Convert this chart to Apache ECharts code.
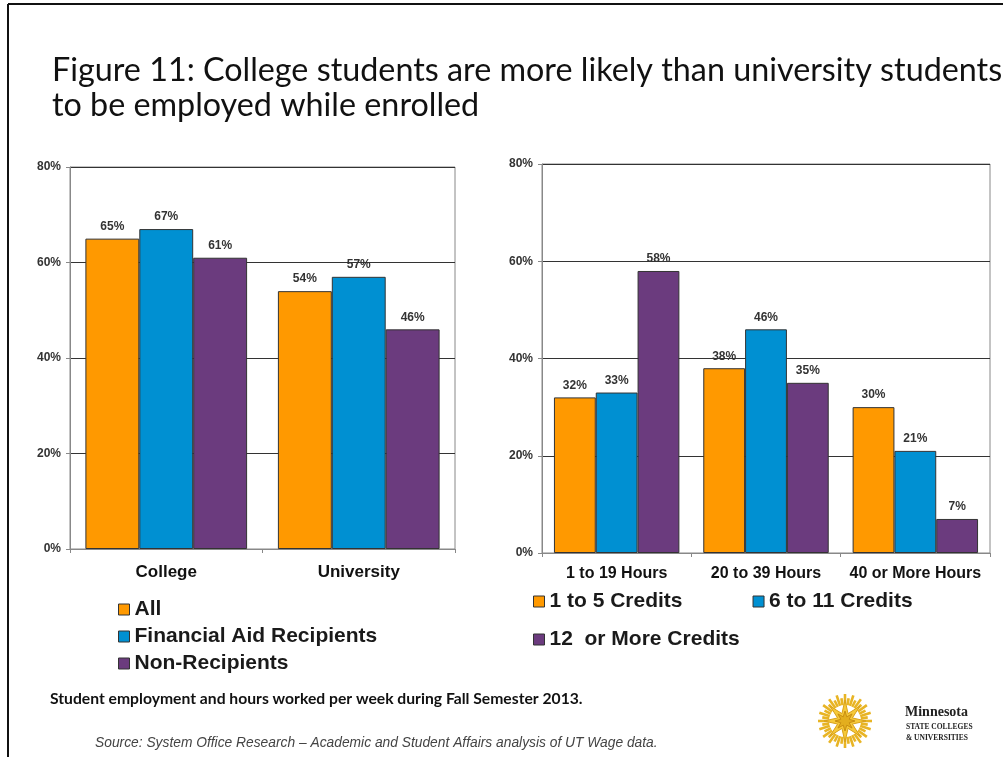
<!DOCTYPE html>
<html>
<head>
<meta charset="utf-8">
<script src="https://cdn.jsdelivr.net/npm/echarts@6/dist/echarts.min.js"></script>
<style>
  html, body { margin: 0; padding: 0; background: #ffffff; }
  #chart { width: 1003px; height: 757px; }
</style>
</head>
<body>
<div id="chart"></div>
<script>
// Employment rate by institution type
const groupCategories = ['College', 'University'];
const allStudents = [65, 54];
const aidRecipients = [67, 57];
const nonRecipients = [61, 46];

// Employment rate by hours worked per week and credit load
const hourCategories = ['1 to 19 Hours', '20 to 39 Hours', '40 or More Hours'];
const credits1to5 = [32, 38, 30];
const credits6to11 = [33, 46, 21];
const credits12plus = [58, 35, 7];

// Percent axis ticks
const yMin = 0;
const yMax = 80;
const yStep = 20;

const leftNames = ['All', 'Financial Aid Recipients', 'Non-Recipients'];
const rightNames = ['1 to 5 Credits', '6 to 11 Credits', '12  or More Credits'];

const ORANGE = '#FF9900';
const BLUE = '#0090D2';
const PURPLE = '#6B3B7E';
const FONT = 'Arial, "Liberation Sans", sans-serif';

const chart = echarts.init(document.getElementById('chart'), null, { renderer: 'canvas' });

function barSeries(name, data, color, axisIndex) {
  return {
    name: name,
    type: 'bar',
    xAxisIndex: axisIndex,
    yAxisIndex: axisIndex,
    data: data,
    barGap: '0%',
    barCategoryGap: '16%',
    itemStyle: { color: color, borderColor: '#333333', borderWidth: 1 },
    label: {
      show: true,
      position: 'top',
      distance: 6,
      formatter: '{c}%',
      fontFamily: FONT,
      fontWeight: 'bold',
      fontSize: 12,
      color: '#333333'
    },
    emphasis: { disabled: true },
    animation: false
  };
}

function valueAxis(gridIndex) {
  return {
    type: 'value',
    gridIndex: gridIndex,
    min: yMin,
    max: yMax,
    interval: yStep,
    axisLine: { show: true, lineStyle: { color: '#888888', width: 1 } },
    axisTick: { show: true, length: 4, lineStyle: { color: '#888888' } },
    axisLabel: {
      formatter: '{value}%',
      fontFamily: FONT,
      fontWeight: 'bold',
      fontSize: 12,
      color: '#333333',
      margin: 9
    },
    splitLine: { show: true, lineStyle: { color: '#333333', width: 1 } }
  };
}

function categoryAxis(gridIndex, data, fontSize, margin) {
  return {
    type: 'category',
    gridIndex: gridIndex,
    data: data,
    axisLine: { show: true, lineStyle: { color: '#888888', width: 1 } },
    axisTick: { show: true, length: 4, lineStyle: { color: '#888888' } },
    axisLabel: {
      interval: 0,
      fontFamily: FONT,
      fontWeight: 'bold',
      fontSize: fontSize,
      color: '#111111',
      margin: margin
    }
  };
}

const legendText = { fontFamily: FONT, fontWeight: 'bold', fontSize: 21, color: '#1a1a1a' };
const legendItem = { borderColor: '#333333', borderWidth: 1 };

// Star emblem of the logo
function emblem(cx, cy) {
  const parts = [];
  const rays = 40;
  for (let i = 0; i < rays; i++) {
    const a = (i / rays) * Math.PI * 2;
    const r1 = 14, r2 = (i % 2 === 0) ? 27 : 23;
    parts.push({
      type: 'line',
      shape: { x1: cx + r1 * Math.cos(a), y1: cy + r1 * Math.sin(a), x2: cx + r2 * Math.cos(a), y2: cy + r2 * Math.sin(a) },
      style: { stroke: '#E8B424', lineWidth: 2.6 },
      silent: true
    });
  }
  const star = (outer, inner, fill, stroke) => {
    const pts = [];
    for (let i = 0; i < 16; i++) {
      const a = (i / 16) * Math.PI * 2 - Math.PI / 2;
      const r = (i % 2 === 0) ? outer : inner;
      pts.push([cx + r * Math.cos(a), cy + r * Math.sin(a)]);
    }
    return { type: 'polygon', shape: { points: pts }, style: { fill: fill, stroke: stroke, lineWidth: 1 }, silent: true };
  };
  parts.push({ type: 'circle', shape: { cx: cx, cy: cy, r: 16 }, style: { fill: '#ffffff' }, silent: true });
  parts.push(star(21, 8, '#F6C93A', '#D9A11A'));
  parts.push(star(10, 4.5, '#E3AE1E', '#C98F10'));
  return parts;
}

const option = {
  backgroundColor: '#ffffff',
  animation: false,
  title: {
    text: 'Figure 11: College students are more likely than university students\nto be employed while enrolled',
    left: 47,
    top: 48,
    textStyle: {
      fontFamily: 'Lato, "Open Sans", sans-serif',
      fontWeight: 'normal',
      fontSize: 32.3,
      lineHeight: 35,
      color: '#111111'
    }
  },
  grid: [
    { left: 70, top: 167, width: 385, height: 382, show: true, borderColor: '#888888', borderWidth: 1, backgroundColor: 'transparent' },
    { left: 542, top: 164, width: 448, height: 389, show: true, borderColor: '#888888', borderWidth: 1, backgroundColor: 'transparent' }
  ],
  xAxis: [
    categoryAxis(0, groupCategories, 17, 15),
    categoryAxis(1, hourCategories, 16, 13)
  ],
  yAxis: [valueAxis(0), valueAxis(1)],
  legend: [
    {
      data: leftNames,
      orient: 'vertical',
      left: 113,
      top: 594,
      itemGap: 6,
      itemWidth: 11,
      itemHeight: 11,
      itemTextGap: 7,
      icon: 'rect',
      itemStyle: legendItem,
      textStyle: legendText,
      selectedMode: false
    },
    {
      data: rightNames.slice(0, 2),
      orient: 'horizontal',
      left: 528,
      top: 586,
      itemGap: 70,
      itemWidth: 11,
      itemHeight: 11,
      itemTextGap: 7,
      icon: 'rect',
      itemStyle: legendItem,
      textStyle: legendText,
      selectedMode: false
    },
    {
      data: rightNames.slice(2),
      orient: 'horizontal',
      left: 528,
      top: 624,
      itemWidth: 11,
      itemHeight: 11,
      itemTextGap: 7,
      icon: 'rect',
      itemStyle: legendItem,
      textStyle: legendText,
      selectedMode: false
    }
  ],
  series: [
    barSeries(leftNames[0], allStudents, ORANGE, 0),
    barSeries(leftNames[1], aidRecipients, BLUE, 0),
    barSeries(leftNames[2], nonRecipients, PURPLE, 0),
    barSeries(rightNames[0], credits1to5, ORANGE, 1),
    barSeries(rightNames[1], credits6to11, BLUE, 1),
    barSeries(rightNames[2], credits12plus, PURPLE, 1)
  ],
  graphic: [
    // slide frame
    { type: 'line', shape: { x1: 8, y1: 4, x2: 1003, y2: 4 }, style: { stroke: '#111111', lineWidth: 2 }, silent: true },
    { type: 'line', shape: { x1: 8, y1: 4, x2: 8, y2: 757 }, style: { stroke: '#111111', lineWidth: 2 }, silent: true },
    {
      type: 'text', left: 50, top: 691, silent: true,
      style: {
        text: 'Student employment and hours worked per week during Fall Semester 2013.',
        font: 'bold 15.7px Lato, "Open Sans", sans-serif',
        fill: '#111111'
      }
    },
    {
      type: 'text', left: 95, top: 736, silent: true,
      style: {
        text: 'Source: System Office Research \u2013 Academic and Student Affairs analysis of UT Wage data.',
        font: 'italic 13.8px Arial, "Liberation Sans", sans-serif',
        fill: '#444444'
      }
    },
    ...emblem(845, 721),
    {
      type: 'text', left: 905, top: 705, silent: true,
      style: { text: 'Minnesota', font: 'bold 14px "Liberation Serif", "DejaVu Serif", serif', fill: '#222222' }
    },
    {
      type: 'text', left: 906, top: 723, silent: true,
      style: { text: 'STATE COLLEGES', font: 'bold 7.5px "Liberation Serif", "DejaVu Serif", serif', fill: '#222222' }
    },
    {
      type: 'text', left: 906, top: 734, silent: true,
      style: { text: '& UNIVERSITIES', font: 'bold 7.5px "Liberation Serif", "DejaVu Serif", serif', fill: '#222222' }
    }
  ]
};

chart.setOption(option);
</script>
</body>
</html>
